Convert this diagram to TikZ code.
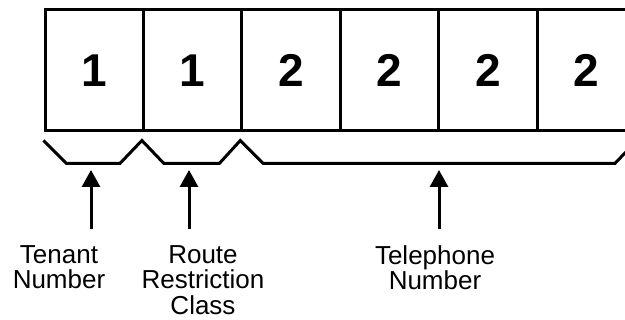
\documentclass[tikz,border=0pt]{standalone}
\usepackage{fontspec}
\setmainfont{Liberation Sans}
\usetikzlibrary{arrows.meta,calc}

\tikzset{
  cell/.style={draw, line width=3pt, minimum width=98.4pt, minimum height=121pt,
    inner sep=0pt, font=\fontsize{46}{46}\selectfont\bfseries},
  fieldname/.style={align=center, anchor=north, inner sep=1pt, font=\fontsize{26}{25.5}\selectfont},
  pointer/.style={-{Triangle[width=18pt,length=17pt]}, line width=3pt, shorten <=15.3pt},
  brace/.style={line width=3pt, line join=miter},
}

\begin{document}
\begin{tikzpicture}[x=1pt,y=-1pt]
    \useasboundingbox (0,0) rectangle (625,320);
    \foreach \d [count=\i] in {1,1,2,2,2,2}
        \node[cell] (cell\i) at ({45+98.4*(\i-0.5)},70.5) {\d};
    %brackets
    \coordinate (p1) at ($(cell1.south west)+(0,8)$);
    \coordinate (p2) at ($(cell2.south west)+(0,8)$);
    \coordinate (p3) at ($(cell3.south west)+(0,8)$);
    \coordinate (p4) at ($(cell6.south east)+(0,8)$);
    \draw[brace] (p1) -- ++(23,23) -- ($(p2)+(-22,23)$) -- (p2) -- ++(22,23)
        -- ($(p3)+(-21,23)$) -- (p3) -- ++(23,23) -- ($(p4)+(-22,23)$) -- (p4);
    %fields
    \coordinate (t1) at (91,170);
    \coordinate (t2) at (189,170);
    \coordinate (t3) at (439,170);
    \node[fieldname] (tenant) at (59,244.3) {Tenant\\Number};
    \node[fieldname] (route) at (203,244.3) {Route\\Restriction\\Class};
    \node[fieldname] (phone) at (435,244.3) {Telephone\\Number};
    \draw[pointer] (tenant.north -| t1) -- (t1);
    \draw[pointer] (route.north -| t2) -- (t2);
    \draw[pointer] (phone.north -| t3) -- (t3);
\end{tikzpicture}
\end{document}
